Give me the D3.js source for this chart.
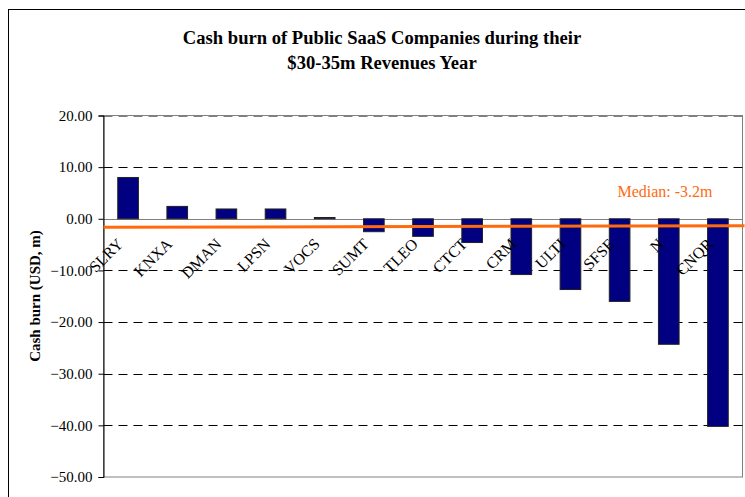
<!DOCTYPE html>
<html>
<head>
<meta charset="utf-8">
<script src="https://cdn.jsdelivr.net/npm/d3@7"></script>
<style>
  body { margin: 0; background: #fff; }
  svg { display: block; font-family: "Liberation Serif", "DejaVu Serif", serif; }
</style>
</head>
<body>
<svg id="chart" width="745" height="497"></svg>
<script>
"use strict";

var companies = ["SLRY", "KNXA", "DMAN", "LPSN", "VOCS", "SUMT", "TLEO", "CTCT", "CRM", "ULTI", "SFSE", "N", "CNQR"];
var cashBurn = [8.0, 2.4, 1.9, 1.9, 0.25, -2.5, -3.4, -4.6, -10.8, -13.7, -16.0, -24.3, -40.2];
var yTicks = [20, 10, 0, -10, -20, -30, -40, -50];
var medianLine = [-1.65, -1.35];
var medianLabel = "Median: -3.2m";
var titleLines = ["Cash burn of Public SaaS Companies during their", "$30-35m Revenues Year"];
var yTitle = "Cash burn (USD, m)";

var plotLeft = 103.5, plotRight = 742.5, plotTop = 115.5, plotBottom = 477;
var svg = d3.select("#chart");

// outer chart border
svg.append("rect")
  .attr("x", 8.5).attr("y", 9.5)
  .attr("width", 745).attr("height", 500)
  .attr("fill", "none").attr("stroke", "#000").attr("stroke-width", 1);

var x = d3.scaleBand().domain(companies).range([plotLeft, plotRight]).paddingInner(0.58).paddingOuter(0.29);
var y = d3.scaleLinear().domain([-50, 20]).range([plotBottom, plotTop]);

// plot area border
svg.append("rect")
  .attr("x", plotLeft).attr("y", plotTop)
  .attr("width", plotRight - plotLeft).attr("height", plotBottom - plotTop)
  .attr("fill", "none").attr("stroke", "#808080");

// dashed gridlines
svg.selectAll(".grid")
  .data(yTicks.filter(function (d) { return d != 0 && d != -50; }))
  .enter().append("line")
  .attr("class", "grid")
  .attr("x1", plotLeft).attr("x2", plotRight)
  .attr("y1", function (d) { return Math.round(y(d)) + 0.5; })
  .attr("y2", function (d) { return Math.round(y(d)) + 0.5; })
  .attr("stroke", function (d) { return d == 20 ? "#808080" : "#000"; })
  .attr("stroke-dasharray", "9,6");

// zero line
svg.append("line")
  .attr("x1", plotLeft).attr("x2", plotRight)
  .attr("y1", Math.round(y(0)) + 0.5).attr("y2", Math.round(y(0)) + 0.5)
  .attr("stroke", "#808080");

// bars
svg.selectAll(".bar")
  .data(cashBurn)
  .enter().append("rect")
  .attr("class", "bar")
  .attr("x", function (d, i) { return x(companies[i]); })
  .attr("width", x.bandwidth())
  .attr("y", function (d) { return y(Math.max(0, d)); })
  .attr("height", function (d) { return Math.abs(y(d) - y(0)); })
  .attr("fill", "#000080")
  .attr("stroke", "#222")
  .attr("stroke-width", 1);

// y axis
var yAxis = d3.axisLeft(y).tickValues(yTicks).tickSize(5).tickFormat(d3.format(".2f"));
var gy = svg.append("g").attr("transform", "translate(" + plotLeft + ",0)").call(yAxis);
gy.select(".domain").attr("stroke", "#000");
gy.selectAll(".tick line").attr("stroke", "#000");
gy.selectAll(".tick text")
  .attr("x", -11)
  .attr("fill", "#000")
  .style("font-family", "'Liberation Serif', serif")
  .style("font-size", "15px");

// category labels
svg.selectAll(".cat")
  .data(companies)
  .enter().append("text")
  .attr("class", "cat")
  .attr("transform", function (d) {
    return "translate(" + (x(d) + x.bandwidth() / 2 - 4) + ",245) rotate(-45)";
  })
  .attr("text-anchor", "end")
  .style("font-size", "16px")
  .text(function (d) { return d; });

// median line
svg.append("line")
  .attr("x1", plotLeft).attr("x2", plotRight + 2)
  .attr("y1", y(medianLine[0])).attr("y2", y(medianLine[1]))
  .attr("stroke", "#ff6a0d").attr("stroke-width", 3);

svg.append("text")
  .attr("x", 665).attr("y", 197)
  .attr("text-anchor", "middle")
  .attr("fill", "#ff6a0d")
  .style("font-size", "16px")
  .text(medianLabel);

// title
svg.selectAll(".title")
  .data(titleLines)
  .enter().append("text")
  .attr("class", "title")
  .attr("x", 382)
  .attr("y", function (d, i) { return 44 + i * 25; })
  .attr("text-anchor", "middle")
  .style("font-weight", "bold")
  .style("font-size", "18.6px")
  .text(function (d) { return d; });

// y axis title
svg.append("text")
  .attr("transform", "translate(40,296) rotate(-90)")
  .attr("text-anchor", "middle")
  .style("font-weight", "bold")
  .style("font-size", "15px")
  .text(yTitle);
</script>
</body>
</html>
